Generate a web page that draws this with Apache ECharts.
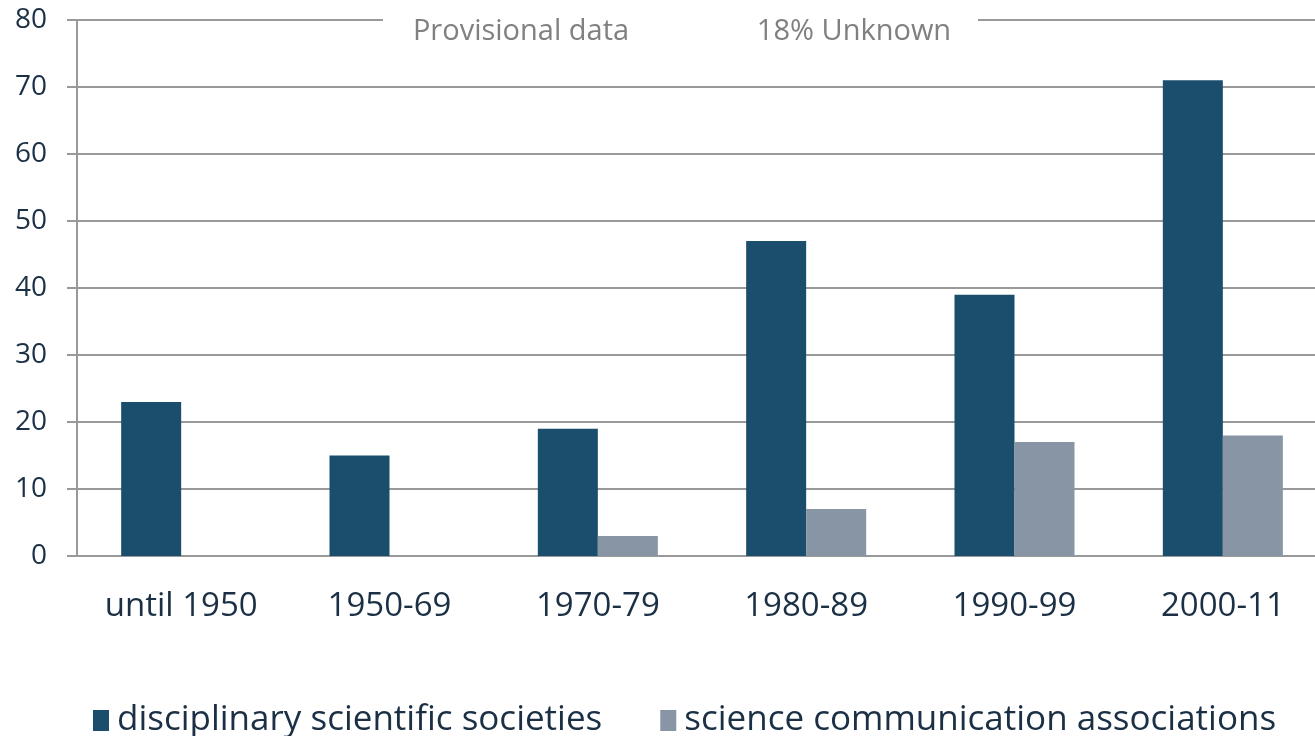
<!DOCTYPE html>
<html>
<head>
<meta charset="utf-8">
<script src="https://cdn.jsdelivr.net/npm/echarts@6/dist/echarts.min.js"></script>
<style>
  html, body { margin: 0; padding: 0; background: #fff; overflow: hidden; }
  #chart { width: 1327px; height: 736px; }
</style>
</head>
<body>
<div id="chart"></div>
<script>
const periods = ['until 1950', '1950-69', '1970-79', '1980-89', '1990-99', '2000-11']
const disciplinary = [23, 15, 19, 47, 39, 71]
const scienceComm = [0, 0, 3, 7, 17, 18]
const seriesNames = ['disciplinary scientific societies', 'science communication associations']
const yTicks = { min: 0, max: 80, interval: 10 }
const notes = ['Provisional data', '18% Unknown']

const textColor = '#1b3045'
const font = 'Open Sans'

// the plot runs a little past the right edge of the window, as in the source
const chart = echarts.init(document.getElementById('chart'))
const option = {
  animation: false,
  textStyle: { fontFamily: font },
  grid: {
    left: 77,
    right: 0,
    top: 20,
    height: 536
  },
  legend: {
    top: 698,
    left: 88,
    itemWidth: 16,
    itemHeight: 21,
    itemGap: 58,
    icon: 'rect',
    textStyle: { fontSize: 35, color: textColor, fontFamily: font, padding: [0, 0, 0, 3] },
    data: seriesNames
  },
  xAxis: {
    type: 'category',
    data: periods,
    axisLine: { lineStyle: { color: '#999', width: 2 } },
    axisTick: { length: 12, lineStyle: { color: '#999', width: 2 } },
    axisLabel: { fontSize: 33, color: textColor, margin: 34, fontFamily: font }
  },
  yAxis: {
    type: 'value',
    min: yTicks.min,
    max: yTicks.max,
    interval: yTicks.interval,
    axisLine: { show: true, lineStyle: { color: '#999', width: 2 } },
    axisTick: { show: true, length: 10, lineStyle: { color: '#999', width: 2 } },
    axisLabel: { fontSize: 28, color: textColor, margin: 30, fontFamily: font },
    splitLine: { lineStyle: { color: '#999', width: 2 } }
  },
  graphic: [
    {
      type: 'rect',
      shape: { x: 383, y: 8, width: 595, height: 24 },
      style: { fill: '#fff' },
      z: 100
    },
    {
      type: 'text',
      x: 521, y: 32,
      style: { text: notes[0], fill: '#808080', font: '29px "Open Sans"', textAlign: 'center', textVerticalAlign: 'middle' },
      z: 101
    },
    {
      type: 'text',
      x: 854, y: 32,
      style: { text: notes[1], fill: '#808080', font: '29px "Open Sans"', textAlign: 'center', textVerticalAlign: 'middle' },
      z: 101
    }
  ],
  series: [
    {
      name: seriesNames[0],
      type: 'bar',
      data: disciplinary,
      barWidth: 60,
      barGap: '0%',
      itemStyle: { color: '#1a4e6c' }
    },
    {
      name: seriesNames[1],
      type: 'bar',
      data: scienceComm,
      barWidth: 60,
      itemStyle: { color: '#8795a5' }
    }
  ]
}
chart.setOption(option)
</script>
</body>
</html>
